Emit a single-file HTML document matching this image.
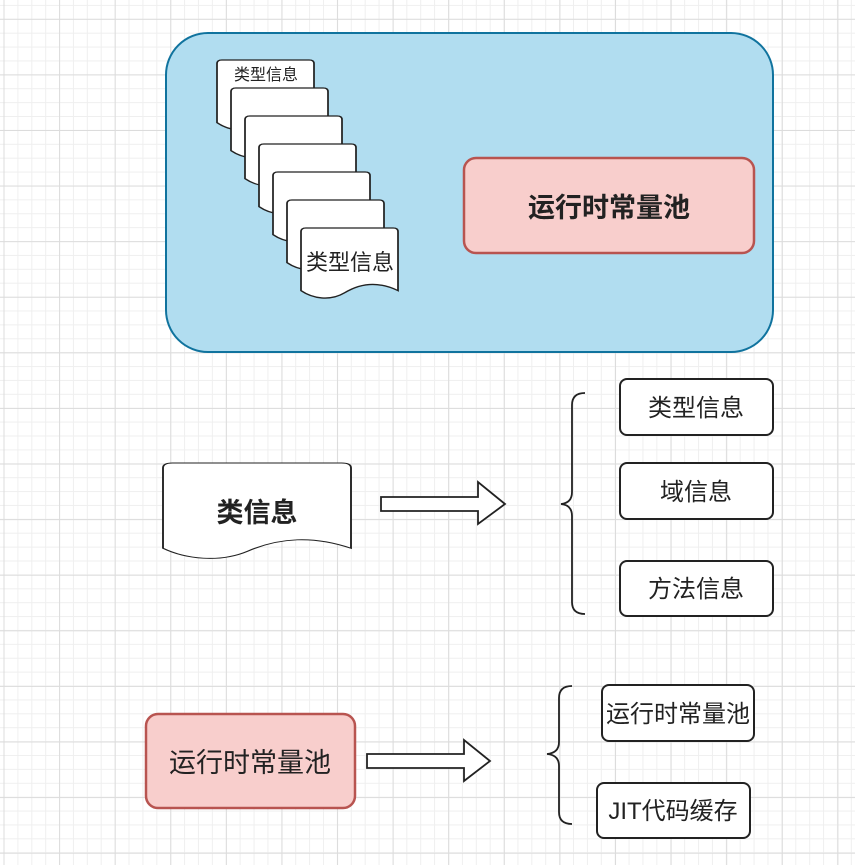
<!DOCTYPE html>
<html><head><meta charset="utf-8"><style>
html,body{margin:0;padding:0;}
body{width:855px;height:865px;overflow:hidden;background-color:#fff;
background-image:
linear-gradient(#dcdcdc 1px,transparent 1px),
linear-gradient(90deg,#dcdcdc 1px,transparent 1px),
linear-gradient(#efefef 1px,transparent 1px),
linear-gradient(90deg,#efefef 1px,transparent 1px);
background-size:55.6px 55.6px,55.6px 55.6px,13.9px 13.9px,13.9px 13.9px;
background-position:0 18.8px,3.5px 0,0 4.9px,3.5px 0;}
svg{position:absolute;left:0;top:0;}
text{font-family:"Liberation Sans","Noto Sans CJK SC",sans-serif;fill:#222;}
</style></head><body>
<svg width="855" height="865" viewBox="0 0 855 865">
<defs>
<path id="doc" d="M0,5 Q0,0 5,0 L95,0 Q100,0 100,5 L100,87 C80,74 62,76 45,90 C30,102 12,98 0,87 Z"/>
</defs>
<rect x="166" y="33" width="607" height="319" rx="42" fill="#b1ddf0" stroke="#10739e" stroke-width="2"/>
<g fill="#fff" stroke="#222" stroke-width="1.8">
<use href="#doc" transform="translate(217,60) scale(0.97,0.72)"/>
<use href="#doc" transform="translate(231,88) scale(0.97,0.72)"/>
<use href="#doc" transform="translate(245,116) scale(0.97,0.72)"/>
<use href="#doc" transform="translate(259,144) scale(0.97,0.72)"/>
<use href="#doc" transform="translate(273,172) scale(0.97,0.72)"/>
<use href="#doc" transform="translate(287,200) scale(0.97,0.72)"/>
<use href="#doc" transform="translate(301,228) scale(0.97,0.72)"/>
</g>
<text x="266" y="80" font-size="16" text-anchor="middle">类型信息</text>
<text x="350" y="270" font-size="22" text-anchor="middle">类型信息</text>
<rect x="464" y="158" width="290" height="95" rx="12" fill="#f8cecc" stroke="#b85450" stroke-width="2.5"/>
<text x="609" y="217" font-size="27" font-weight="bold" text-anchor="middle">运行时常量池</text>

<use href="#doc" transform="translate(163,463) scale(1.88,0.98)" fill="#fff" stroke="#222" stroke-width="1"/>
<text x="257" y="522" font-size="27" font-weight="bold" text-anchor="middle">类信息</text>
<path d="M381,497 L478,497 L478,482 L505,504 L478,524 L478,511 L381,511 Z" fill="#fff" stroke="#222" stroke-width="1.8"/>
<path d="M585,393 Q572,393 572,405 L572,492 Q572,503 561,504 Q572,505 572,516 L572,602 Q572,614 585,614" fill="none" stroke="#222" stroke-width="1.8"/>
<g fill="#fff" stroke="#222" stroke-width="2">
<rect x="620" y="379" width="153" height="56" rx="7"/>
<rect x="620" y="463" width="153" height="56" rx="7"/>
<rect x="620" y="561" width="153" height="55" rx="7"/>
<rect x="602" y="685" width="152" height="56" rx="7"/>
<rect x="597" y="783" width="153" height="55" rx="7"/>
</g>
<g font-size="24" text-anchor="middle">
<text x="696" y="416">类型信息</text>
<text x="696" y="500">域信息</text>
<text x="696" y="597">方法信息</text>
<text x="678" y="722">运行时常量池</text>
<text x="673" y="819">JIT代码缓存</text>
</g>
<rect x="146" y="714" width="209" height="94" rx="12" fill="#f8cecc" stroke="#b85450" stroke-width="2.5"/>
<text x="250" y="772" font-size="27" text-anchor="middle">运行时常量池</text>
<path d="M367,754 L464,754 L464,740 L490,761 L464,781 L464,768 L367,768 Z" fill="#fff" stroke="#222" stroke-width="1.8"/>
<path d="M572,686 Q559,686 559,698 L559,742 Q559,753 547,754 Q559,755 559,766 L559,812 Q559,824 572,824" fill="none" stroke="#222" stroke-width="1.8"/>
</svg>
</body></html>
